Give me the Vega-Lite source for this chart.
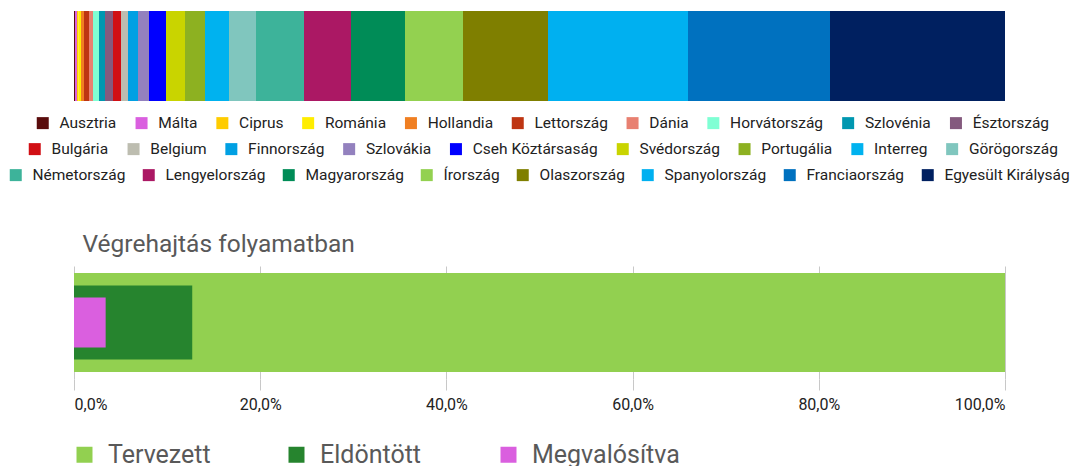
{
  "$schema": "https://vega.github.io/schema/vega-lite/v6.json",
  "padding": {"left": 8, "top": 11, "right": 0, "bottom": 0},
  "background": "white",
  "config": {
    "view": {"stroke": null},
    "font": "Roboto",
    "legend": {
      "symbolType": "square",
      "symbolSize": 144,
      "symbolStrokeWidth": 0,
      "labelFontSize": 15.5,
      "labelColor": "#222222",
      "labelFont": "Roboto",
      "labelOffset": 9,
      "columnPadding": 16.8,
      "direction": "horizontal",
      "orient": "none",
      "title": null,
      "labelLimit": 400
    }
  },
  "bounds": "flush",
  "spacing": 165,
  "vconcat": [
    {
      "width": 931,
      "height": 90,
      "data": {
        "values": [
          {"country": "Ausztria", "v": 1, "o": 1, "r": 1},
          {"country": "Málta", "v": 2, "o": 2, "r": 1},
          {"country": "Ciprus", "v": 1.5, "o": 3, "r": 1},
          {"country": "Románia", "v": 2.5, "o": 4, "r": 1},
          {"country": "Hollandia", "v": 3, "o": 5, "r": 1},
          {"country": "Lettország", "v": 5, "o": 6, "r": 1},
          {"country": "Dánia", "v": 4, "o": 7, "r": 1},
          {"country": "Horvátország", "v": 6, "o": 8, "r": 1},
          {"country": "Szlovénia", "v": 6, "o": 9, "r": 1},
          {"country": "Észtország", "v": 8, "o": 10, "r": 1},
          {"country": "Bulgária", "v": 8, "o": 11, "r": 2},
          {"country": "Belgium", "v": 7, "o": 12, "r": 2},
          {"country": "Finnország", "v": 10, "o": 13, "r": 2},
          {"country": "Szlovákia", "v": 11, "o": 14, "r": 2},
          {"country": "Cseh Köztársaság", "v": 17, "o": 15, "r": 2},
          {"country": "Svédország", "v": 19, "o": 16, "r": 2},
          {"country": "Portugália", "v": 20, "o": 17, "r": 2},
          {"country": "Interreg", "v": 24, "o": 18, "r": 2},
          {"country": "Görögország", "v": 27, "o": 19, "r": 2},
          {"country": "Németország", "v": 48, "o": 20, "r": 3},
          {"country": "Lengyelország", "v": 47, "o": 21, "r": 3},
          {"country": "Magyarország", "v": 54, "o": 22, "r": 3},
          {"country": "Írország", "v": 58, "o": 23, "r": 3},
          {"country": "Olaszország", "v": 85, "o": 24, "r": 3},
          {"country": "Spanyolország", "v": 140, "o": 25, "r": 3},
          {"country": "Franciaország", "v": 142, "o": 26, "r": 3},
          {"country": "Egyesült Királyság", "v": 175, "o": 27, "r": 3}
        ]
      },
      "encoding": {
        "x": {"field": "x0", "type": "quantitative", "scale": {"domain": [0, 1], "nice": false, "zero": false}, "axis": null},
        "x2": {"field": "x1"},
        "y": {"datum": "all", "type": "nominal", "axis": null, "scale": {"paddingInner": 0, "paddingOuter": 0}}
      },
      "layer": [
        {
          "transform": [
            {"stack": "v", "groupby": [], "sort": [{"field": "o", "order": "ascending"}], "as": ["x0", "x1"], "offset": "normalize"},
            {"filter": "datum.r == 1"}
          ],
          "mark": {"type": "bar"},
          "encoding": {
            "color": {
              "field": "country", "type": "nominal",
              "scale": {
                "domain": ["Ausztria", "Málta", "Ciprus", "Románia", "Hollandia", "Lettország", "Dánia", "Horvátország", "Szlovénia", "Észtország"],
                "range": ["#5A0C0C", "#DA5FDF", "#FFCC00", "#FFED00", "#F07F22", "#BE3512", "#E88071", "#7FFFD4", "#0097B0", "#845A7E"]
              },
              "legend": {"legendX": -39, "legendY": 104}
            }
          }
        },
        {
          "transform": [
            {"stack": "v", "groupby": [], "sort": [{"field": "o", "order": "ascending"}], "as": ["x0", "x1"], "offset": "normalize"},
            {"filter": "datum.r == 2"}
          ],
          "mark": {"type": "bar"},
          "encoding": {
            "color": {
              "field": "country", "type": "nominal",
              "scale": {
                "domain": ["Bulgária", "Belgium", "Finnország", "Szlovákia", "Cseh Köztársaság", "Svédország", "Portugália", "Interreg", "Görögország"],
                "range": ["#D10F14", "#BDBDB0", "#00A0E3", "#9381BE", "#0000FF", "#C9D400", "#8DB121", "#00B2EF", "#80C6BE"]
              },
              "legend": {"legendX": -47, "legendY": 130}
            }
          }
        },
        {
          "transform": [
            {"stack": "v", "groupby": [], "sort": [{"field": "o", "order": "ascending"}], "as": ["x0", "x1"], "offset": "normalize"},
            {"filter": "datum.r == 3"}
          ],
          "mark": {"type": "bar"},
          "encoding": {
            "color": {
              "field": "country", "type": "nominal",
              "scale": {
                "domain": ["Németország", "Lengyelország", "Magyarország", "Írország", "Olaszország", "Spanyolország", "Franciaország", "Egyesült Királyság"],
                "range": ["#3DB39A", "#AB1864", "#008C57", "#93D150", "#7F7F00", "#00B0F0", "#0071BF", "#002060"]
              },
              "legend": {"legendX": -66, "legendY": 156, "columnPadding": 15}
            }
          }
        }
      ],
      "resolve": {"scale": {"color": "independent"}}
    },
    {
      "width": 931,
      "height": 113,
      "title": {
        "text": "Végrehajtás folyamatban",
        "anchor": "start",
        "fontSize": 24.5,
        "fontWeight": "normal",
        "color": "#595959",
        "font": "Roboto",
        "dx": 9,
        "offset": -10,
        "baseline": "alphabetic"
      },
      "data": {
        "values": [
          {"s": "Tervezett", "v": 1.0, "g": "Végrehajtás folyamatban"},
          {"s": "Eldöntött", "v": 0.127, "g": "Végrehajtás folyamatban"},
          {"s": "Megvalósítva", "v": 0.034, "g": "Végrehajtás folyamatban"}
        ]
      },
      "encoding": {
        "x": {
          "field": "v", "type": "quantitative",
          "scale": {"domain": [0, 1], "nice": false},
          "axis": {
            "values": [0, 0.2, 0.4, 0.6, 0.8, 1],
            "labelExpr": "replace(format(datum.value, '.1%'), '.', ',')",
            "grid": true,
            "gridColor": "#c8c8c8",
            "tickColor": "#c8c8c8",
            "tickSize": 11,
            "domain": false,
            "labelFontSize": 16,
            "labelColor": "#222222",
            "labelPadding": 6,
            "labelFlush": true,
            "title": null
          }
        },
        "y": {"field": "g", "type": "nominal", "axis": null, "scale": {"paddingInner": 0, "paddingOuter": 0}},
        "color": {
          "field": "s", "type": "nominal",
          "scale": {"domain": ["Tervezett", "Eldöntött", "Megvalósítva"], "range": ["#92D050", "#26842E", "#DA5FDF"]},
          "legend": {
            "legendX": -2,
            "legendY": 431,
            "symbolSize": 256,
            "labelFontSize": 25,
            "labelColor": "#595959",
            "labelOffset": 11,
            "gridAlign": "all",
            "columnPadding": 28
          }
        }
      },
      "layer": [
        {"transform": [{"filter": "datum.s == 'Tervezett'"}], "mark": {"type": "bar", "size": 99}},
        {"transform": [{"filter": "datum.s == 'Eldöntött'"}], "mark": {"type": "bar", "size": 74}},
        {"transform": [{"filter": "datum.s == 'Megvalósítva'"}], "mark": {"type": "bar", "size": 50}}
      ]
    }
  ]
}
